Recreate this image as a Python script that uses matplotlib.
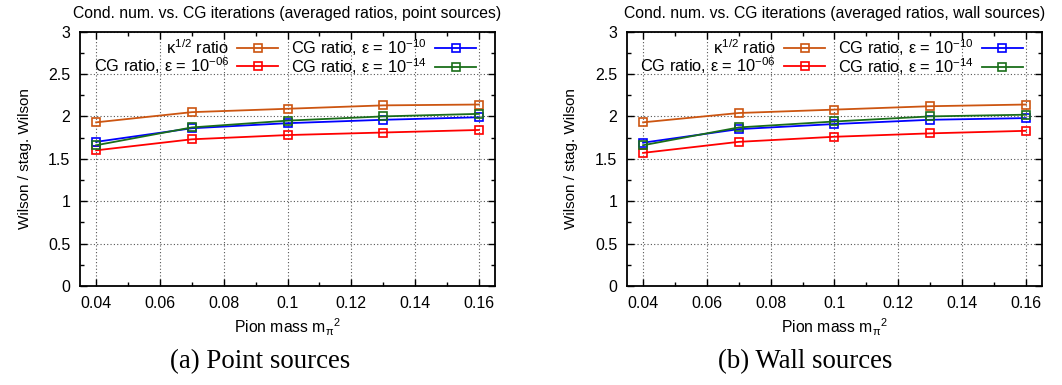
import numpy as np
import matplotlib
matplotlib.use('Agg')
import matplotlib.pyplot as plt
from matplotlib.ticker import MultipleLocator

plt.rcParams['font.family'] = ['Liberation Sans', 'DejaVu Sans']
plt.rcParams['mathtext.fontset'] = 'custom'
plt.rcParams['mathtext.rm'] = 'Liberation Sans'
plt.rcParams['mathtext.it'] = 'Liberation Sans'

# pion mass squared
mpi2 = [0.04, 0.07, 0.10, 0.13, 0.16]

# point sources
point_kappa = [1.93, 2.05, 2.09, 2.13, 2.14]
point_e06 = [1.60, 1.73, 1.78, 1.81, 1.84]
point_e10 = [1.70, 1.86, 1.92, 1.96, 1.99]
point_e14 = [1.66, 1.87, 1.95, 2.00, 2.03]

# wall sources
wall_kappa = [1.93, 2.04, 2.08, 2.12, 2.14]
wall_e06 = [1.57, 1.70, 1.76, 1.80, 1.83]
wall_e10 = [1.69, 1.85, 1.91, 1.96, 1.98]
wall_e14 = [1.66, 1.87, 1.94, 2.00, 2.02]

xticks = [0.04, 0.06, 0.08, 0.10, 0.12, 0.14, 0.16]
xticklabels = ['0.04', '0.06', '0.08', '0.1', '0.12', '0.14', '0.16']
yticks = [0, 0.5, 1, 1.5, 2, 2.5, 3]
yticklabels = ['0', '0.5', '1', '1.5', '2', '2.5', '3']

labels = [r'$\kappa^{1/2}$ ratio',
          r'CG ratio, ε = 10$^{-06}$',
          r'CG ratio, ε = 10$^{-10}$',
          r'CG ratio, ε = 10$^{-14}$']
colors = ['#cc5511', '#ff0000', '#0000ff', '#1a6e1a']

titles = ['Cond. num. vs. CG iterations (averaged ratios, point sources)',
          'Cond. num. vs. CG iterations (averaged ratios, wall sources)']
captions = ['(a) Point sources', '(b) Wall sources']
series = [[point_kappa, point_e06, point_e10, point_e14],
          [wall_kappa, wall_e06, wall_e10, wall_e14]]

fig = plt.figure(figsize=(10.62, 3.85), dpi=100)
lefts = [0.0755, 0.5905]
caption_x = [0.245, 0.758]

for i in range(2):
    ax = fig.add_axes([lefts[i], 0.257, 0.3905, 0.661])
    handles = []
    for ys, c, lab in zip(series[i], colors, labels):
        h, = ax.plot(mpi2, ys, color=c, lw=1.3, marker='s', ms=5.5,
                     mfc='none', mec=c, mew=1.2, label=lab)
        handles.append(h)
    ax.set_xlim(0.035, 0.165)
    ax.set_ylim(0, 3)
    ax.set_xticks(xticks)
    ax.set_xticklabels(xticklabels)
    ax.set_yticks(yticks)
    ax.set_yticklabels(yticklabels)
    ax.xaxis.set_minor_locator(MultipleLocator(0.01))
    ax.yaxis.set_minor_locator(MultipleLocator(0.25))
    ax.grid(True, which='major', color='#555555', ls=(0, (1, 2)), lw=0.8)
    ax.tick_params(which='both', direction='in', top=True, right=True,
                   labelsize=11.5, width=1)
    ax.tick_params(which='major', length=5, pad=7)
    ax.tick_params(which='minor', length=3)
    for s in ax.spines.values():
        s.set_linewidth(1.3)
    ax.set_xlabel(r'Pion mass m$_\pi$$^2$', fontsize=11.3, labelpad=4)
    ax.set_ylabel('Wilson / stag. Wilson', fontsize=11, labelpad=12)
    ax.set_title(titles[i], fontsize=11.3, pad=10)
    ax.legend(handles, labels, ncol=2, markerfirst=False, frameon=False,
              loc='upper right', bbox_to_anchor=(0.99, 1.035), fontsize=11.8,
              handlelength=2.5, columnspacing=0.8, labelspacing=-0.1,
              handletextpad=0.5)
    fig.text(caption_x[i], 0.062, captions[i], ha='center', va='center',
             fontsize=19.4, family=['Liberation Serif', 'DejaVu Serif'])

fig.savefig('out.png', dpi=100)
